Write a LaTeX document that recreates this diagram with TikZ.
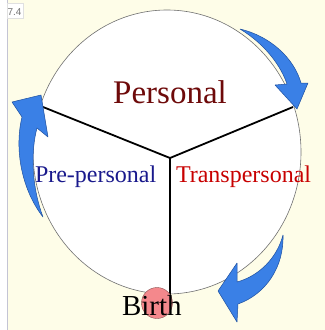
\documentclass[tikz,border=0pt]{standalone}
\usepackage{fontspec}
\setmainfont{Liberation Serif}
\newfontfamily\labelfont{Liberation Sans}
\usetikzlibrary{shapes.geometric}
\definecolor{bgyellow}{RGB}{254,253,232}
\definecolor{arrowblue}{RGB}{58,128,230}
\definecolor{arrowedge}{RGB}{30,80,160}
\definecolor{personalred}{RGB}{110,10,10}
\definecolor{prenavy}{RGB}{25,25,140}
\definecolor{transred}{RGB}{200,0,0}
\definecolor{birthpink}{RGB}{244,136,140}
\tikzset{
  blockarrow/.style={fill=arrowblue, draw=arrowedge, line width=0.5bp, line join=round},
  spoke/.style={draw=black, line width=1.8bp},
  word/.style={inner sep=0pt, outer sep=0pt},
}
\begin{document}
\begin{tikzpicture}[x=1bp,y=-1bp]
\useasboundingbox (0,0) rectangle (325,330);
\fill[white] (0,0) rectangle (325,330);
\fill[bgyellow] (7.5,0) rectangle (325,330);
\draw[color={rgb,255:red,196;green,196;blue,212}, line width=1bp] (7,0) -- (7,330);
\node[word, fill=white, draw=black!12, minimum width=16bp, minimum height=15bp, anchor=north west] (lbl) at (7.5,3) {};
\node[word, anchor=base west, text=black!55, font=\labelfont\fontsize{10bp}{12bp}\selectfont] (lbltext) at (7.5,15.5) {7.4};

% main circle
\node[ellipse, draw={rgb,255:red,112;green,112;blue,112}, fill=white, line width=0.6bp, minimum width=268bp, minimum height=284bp, inner sep=0pt] (circ) at (167,152) {};

% spokes
\coordinate (hub) at (170,158);
\coordinate (lend) at (43,107);
\coordinate (rend) at (293,107);
\coordinate (bend) at (170,296);
\draw[spoke] (lend) -- (hub) -- (rend);
\draw[spoke] (hub) -- (bend);

% birth disc
\node[circle, fill=birthpink, draw={rgb,255:red,140;green,80;blue,80}, line width=0.4bp, minimum size=31bp, inner sep=0pt] (disc) at (157,303) {};

% labels
\node[word, anchor=base, text=personalred, font=\fontsize{33bp}{36bp}\selectfont] (personal) at (170,103) {Personal};
\node[word, anchor=base west, text=prenavy, font=\fontsize{24bp}{28bp}\selectfont] (pre) at (35,182) {Pre-personal};
\node[word, anchor=base west, text=transred, font=\fontsize{24bp}{28bp}\selectfont] (trans) at (176,182) {Transpersonal};
\node[word, anchor=base west, text=black, font=\fontsize{29bp}{32bp}\selectfont] (birth) at (122,315) {Birth};

% curved block arrows
\draw[blockarrow] (240,29) .. controls (270,36) and (294,58) .. (301,83)
  -- (308,83) -- (297,109) -- (275,85) -- (287,84)
  .. controls (281,66) and (265,44) .. (240,29) -- cycle;
\draw[blockarrow] (43,217) .. controls (22,190) and (14,150) .. (22,117)
  -- (12,102) -- (41,95) -- (48,137) -- (37,128)
  .. controls (31,150) and (31,185) .. (43,217) -- cycle;
\draw[blockarrow] (283,235) .. controls (284,267) and (266,294) .. (238,304)
  -- (237,322) -- (218,291) -- (237,263) -- (237,282)
  .. controls (259,276) and (277,258) .. (283,235) -- cycle;
\end{tikzpicture}
\end{document}
